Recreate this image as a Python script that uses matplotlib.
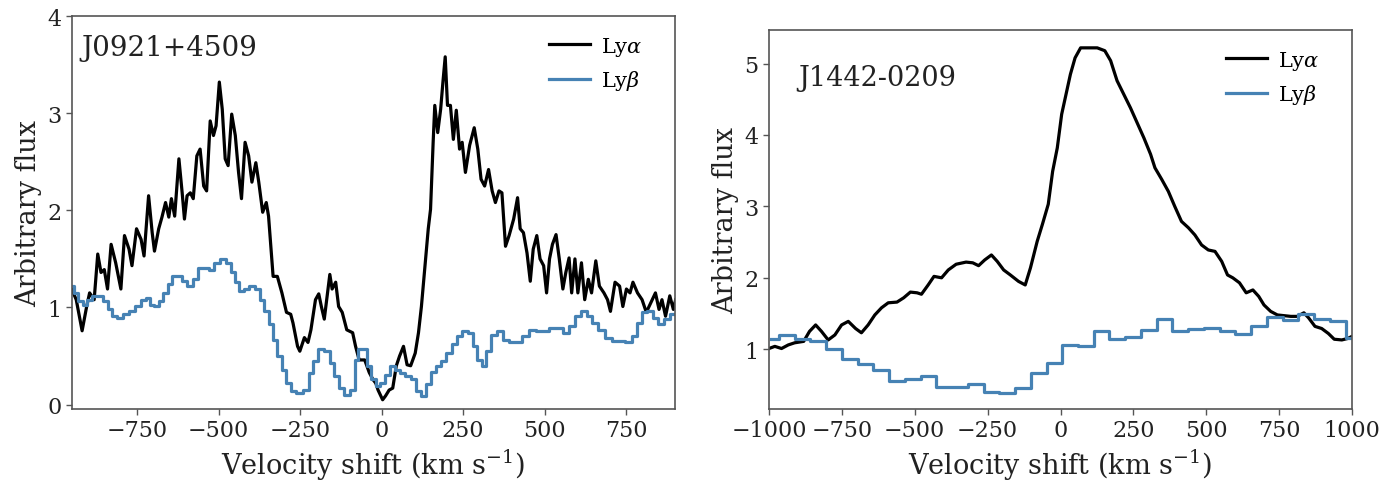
#!/usr/bin/env python
# coding: utf-8

r"""Lyman alpha / Lyman beta velocity profiles for two objects"""

import matplotlib
matplotlib.use("Agg")
import matplotlib.pyplot as plt

plt.rcParams['font.family'] = ['DejaVu Serif']
plt.rcParams['mathtext.fontset'] = 'dejavuserif'

# J0921+4509, Lya (velocity km/s, flux)
v_a1 = [-951, -937, -919, -905, -896, -882, -871, -861, -851, -841, -830, -816,
        -800, -789, -775, -766, -752, -738, -729, -715, -704, -697, -684, -674,
        -663, -653, -645, -635, -622, -612, -605, -597, -587, -578, -567, -557,
        -546, -537, -526, -516, -508, -498, -489, -480, -471, -460, -449, -439,
        -430, -419, -408, -398, -386, -377, -365, -354, -347, -333, -320, -306,
        -292, -279, -272, -258, -251, -237, -226, -217, -203, -193, -185, -176,
        -166, -159, -152, -141, -132, -121, -107, -89, -80, -69, -52, -38,
        -27, -18, -11, 3, 12, 23, 34, 45, 55, 67, 78, 89,
        103, 113, 122, 133, 143, 150, 158, 163, 172, 181, 188, 195,
        202, 211, 220, 229, 239, 247, 257, 270, 284, 295, 305, 316,
        328, 339, 349, 360, 369, 380, 391, 405, 417, 425, 435, 446,
        456, 465, 476, 486, 497, 506, 515, 524, 535, 545, 556, 565,
        575, 583, 593, 602, 613, 623, 634, 644, 657, 668, 682, 693,
        702, 716, 730, 740, 751, 762, 771, 785, 799, 812, 826, 840,
        851, 860, 871, 884, 895, 902]
f_a1 = [1.19, 1.08, 0.76, 1.01, 1.15, 1.08, 1.55, 1.36, 1.39, 1.19, 1.65, 1.46,
        1.19, 1.74, 1.60, 1.43, 1.81, 1.70, 1.53, 2.15, 1.77, 1.58, 1.81, 1.93,
        2.08, 1.93, 2.12, 1.94, 2.53, 2.18, 1.91, 2.15, 2.18, 2.12, 2.56, 2.63,
        2.25, 2.20, 2.92, 2.77, 2.87, 3.32, 3.04, 2.53, 2.46, 2.99, 2.77, 2.39,
        2.12, 2.70, 2.56, 2.29, 2.49, 2.29, 1.98, 2.08, 1.94, 1.32, 1.32, 1.15,
        0.95, 0.93, 0.84, 0.60, 0.55, 0.69, 0.64, 0.77, 1.08, 1.14, 1.01, 0.88,
        1.15, 1.34, 1.19, 1.26, 1.01, 0.95, 0.77, 0.74, 0.60, 0.46, 0.46, 0.33,
        0.26, 0.22, 0.15, 0.05, 0.09, 0.15, 0.17, 0.40, 0.50, 0.60, 0.41, 0.40,
        0.53, 0.74, 1.01, 1.43, 1.81, 2.01, 2.70, 3.08, 2.80, 3.04, 3.32, 3.58,
        3.08, 3.08, 2.73, 3.03, 2.63, 2.70, 2.39, 2.67, 2.85, 2.63, 2.32, 2.25,
        2.42, 2.20, 2.08, 2.20, 2.18, 1.63, 1.74, 1.91, 2.13, 1.81, 1.77, 1.56,
        1.27, 1.60, 1.74, 1.50, 1.43, 1.15, 1.50, 1.65, 1.75, 1.50, 1.19, 1.36,
        1.51, 1.15, 1.50, 1.15, 1.46, 1.08, 1.29, 1.15, 1.48, 1.22, 1.15, 1.08,
        0.96, 1.26, 1.22, 1.01, 1.19, 1.15, 1.26, 1.15, 1.08, 0.95, 1.05, 1.15,
        0.98, 1.08, 0.91, 1.12, 0.98, 1.08]

# J0921+4509, Lyb
v_b1 = [-951, -937, -924, -910, -896, -880, -862, -848, -834, -821, -803, -786,
        -766, -745, -731, -718, -704, -690, -677, -663, -649, -635, -622, -605,
        -587, -571, -557, -539, -523, -505, -484, -468, -457, -443, -430, -416,
        -395, -381, -368, -354, -340, -327, -313, -299, -285, -272, -251, -230,
        -217, -203, -185, -166, -152, -139, -125, -107, -89, -77, -66, -52,
        -38, -25, -11, 3, 16, 33, 51, 64, 81, 99, 113, 129,
        143, 158, 174, 191, 206, 223, 239, 257, 273, 287, 300, 314,
        328, 346, 364, 380, 400, 421, 442, 462, 483, 504, 524, 545,
        565, 586, 602, 620, 638, 655, 675, 696, 716, 737, 758, 776,
        789, 806, 823, 840, 856, 874, 895, 910]
f_b1 = [1.22, 1.15, 1.07, 1.03, 1.08, 1.12, 1.12, 1.07, 0.98, 0.91, 0.89, 0.93,
        0.96, 1.01, 1.08, 1.10, 1.03, 1.01, 1.07, 1.15, 1.24, 1.32, 1.32, 1.27,
        1.22, 1.29, 1.41, 1.41, 1.39, 1.46, 1.50, 1.46, 1.36, 1.26, 1.17, 1.19,
        1.22, 1.19, 1.08, 0.96, 0.83, 0.67, 0.50, 0.36, 0.22, 0.14, 0.12, 0.15,
        0.33, 0.45, 0.57, 0.55, 0.43, 0.29, 0.17, 0.10, 0.15, 0.46, 0.57, 0.57,
        0.40, 0.26, 0.19, 0.22, 0.31, 0.40, 0.36, 0.33, 0.29, 0.26, 0.14, 0.09,
        0.21, 0.34, 0.40, 0.45, 0.53, 0.62, 0.71, 0.76, 0.74, 0.60, 0.46, 0.40,
        0.55, 0.72, 0.76, 0.67, 0.64, 0.64, 0.71, 0.77, 0.76, 0.76, 0.79, 0.79,
        0.74, 0.81, 0.91, 0.96, 0.91, 0.84, 0.77, 0.69, 0.65, 0.65, 0.64, 0.71,
        0.84, 0.95, 0.96, 0.89, 0.83, 0.88, 0.93, 0.93]

# J1442-0209, Lya
v_a2 = [-1000, -980, -957, -934, -912, -881, -861, -840, -820, -797, -774, -751,
        -728, -703, -683, -660, -637, -614, -591, -561, -538, -515, -492, -477,
        -454, -434, -408, -385, -358, -324, -301, -281, -260, -237, -217, -195,
        -172, -144, -121, -103, -80, -62, -42, -27, -11, 4, 19, 34,
        50, 69, 95, 126, 152, 172, 194, 217, 240, 263, 286, 309,
        324, 347, 370, 392, 415, 439, 461, 484, 507, 530, 553, 573,
        591, 614, 637, 660, 680, 698, 721, 744, 767, 790, 812, 835,
        851, 873, 896, 919, 939, 965, 985, 1000]
f_a2 = [1.01, 1.04, 1.01, 1.06, 1.09, 1.11, 1.25, 1.34, 1.25, 1.13, 1.20, 1.34,
        1.39, 1.29, 1.23, 1.34, 1.48, 1.58, 1.65, 1.66, 1.72, 1.80, 1.79, 1.77,
        1.90, 2.02, 2.00, 2.11, 2.19, 2.22, 2.21, 2.17, 2.25, 2.32, 2.23, 2.11,
        2.04, 1.95, 1.90, 2.14, 2.51, 2.75, 3.03, 3.49, 3.82, 4.29, 4.57, 4.85,
        5.08, 5.22, 5.22, 5.22, 5.18, 5.04, 4.76, 4.57, 4.38, 4.17, 3.96, 3.73,
        3.54, 3.38, 3.21, 3.00, 2.79, 2.70, 2.60, 2.46, 2.39, 2.37, 2.23, 2.04,
        2.00, 1.93, 1.79, 1.83, 1.74, 1.62, 1.53, 1.48, 1.47, 1.46, 1.46, 1.51,
        1.44, 1.32, 1.29, 1.22, 1.14, 1.13, 1.15, 1.18]

# J1442-0209, Lyb (coarse bins)
v_b2 = [-993, -939, -885, -831, -777, -723, -669, -615, -561, -507, -453, -399,
        -345, -291, -237, -183, -129, -75, -21, 33, 87, 141, 195, 249,
        303, 357, 411, 465, 519, 573, 627, 681, 735, 789, 843, 897,
        951, 1005]
f_b2 = [1.14, 1.20, 1.14, 1.11, 1.00, 0.86, 0.79, 0.71, 0.55, 0.58, 0.63, 0.47,
        0.47, 0.52, 0.40, 0.39, 0.46, 0.67, 0.81, 1.06, 1.05, 1.26, 1.14, 1.17,
        1.27, 1.43, 1.26, 1.29, 1.30, 1.25, 1.22, 1.33, 1.45, 1.41, 1.49, 1.42,
        1.39, 1.16]

names = ['J0921+4509', 'J1442-0209']

fig = plt.figure(figsize=(13.97, 4.81), dpi=100)
ax1 = fig.add_axes([72 / 1397, 1 - 410 / 481, 603 / 1397, 393 / 481])
ax2 = fig.add_axes([769 / 1397, 1 - 410 / 481, 583 / 1397, 379 / 481])

panels = [(ax1, v_a1, f_a1, v_b1, f_b1, names[0], 14 / 603),
          (ax2, v_a2, f_a2, v_b2, f_b2, names[1], 14 / 583)]

for ax, va, fa, vb, fb, name, shift in panels:
    ax.plot(va, fa, color='black', lw=2.3, label=r'Ly$\alpha$')
    ax.plot(vb, fb, color='steelblue', lw=2.3, drawstyle='steps-mid',
            label=r'Ly$\beta$')
    ax.set_xlabel(r'Velocity shift (km s$^{-1}$)', fontsize=19.5, color='#222222')
    ax.set_ylabel('Arbitrary flux', fontsize=19.5, color='#222222')
    ax.tick_params(labelsize=16, colors='#222222', length=4, width=1,
                   color='#555555')
    for sp in ax.spines.values():
        sp.set_color('#555555')
        sp.set_linewidth(1.2)
    ax.legend(loc='upper right', bbox_to_anchor=(1 - shift, 1), frameon=False,
              fontsize=15, handlelength=2.0, handletextpad=0.5)

ax1.text(0.015, 0.92, names[0], transform=ax1.transAxes, fontsize=20,
         va='center', ha='left', color='#222222')
ax2.text(0.05, 0.875, names[1], transform=ax2.transAxes, fontsize=19.5,
         va='center', ha='left', color='#222222')

ax1.set_xlim(-950, 900)
ax1.set_ylim(-0.045, 4)
ax1.set_xticks([-750, -500, -250, 0, 250, 500, 750])
ax1.set_yticks([0, 1, 2, 3, 4])

ax2.set_xlim(-1000, 1000)
ax2.set_ylim(0.163, 5.47)
ax2.set_xticks([-1000, -750, -500, -250, 0, 250, 500, 750, 1000])
ax2.set_yticks([1, 2, 3, 4, 5])

fig.savefig('out.png', dpi=100)
